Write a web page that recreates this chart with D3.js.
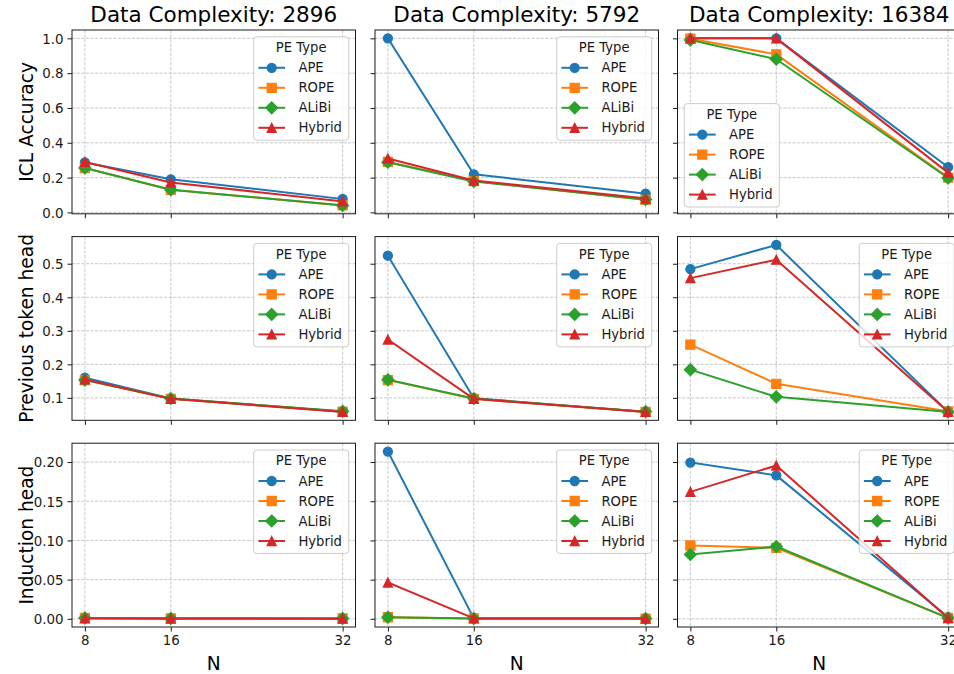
<!DOCTYPE html>
<html>
<head>
<meta charset="utf-8">
<script src="https://cdn.jsdelivr.net/npm/d3@7"></script>
<style>
  html, body { margin: 0; padding: 0; background: #fff; }
  svg { display: block; font-family: "DejaVu Sans", sans-serif; }
</style>
</head>
<body>
<svg id="chart" width="954" height="674"></svg>
<script>
// ---------------- data ----------------
const N = [8, 16, 32];
const complexities = [2896, 5792, 16384];
const peTypes = ["APE", "ROPE", "ALiBi", "Hybrid"];
const metrics = ["ICL Accuracy", "Previous token head", "Induction head"];

// each array: one row of values per data complexity (2896, 5792, 16384), values at N = 8, 16, 32
const iclAPE    = [[0.287, 0.190, 0.077], [1.000, 0.219, 0.108], [1.000, 1.000, 0.260]];
const iclROPE   = [[0.255, 0.130, 0.040], [0.290, 0.180, 0.072], [0.998, 0.908, 0.200]];
const iclALiBi  = [[0.255, 0.130, 0.040], [0.288, 0.178, 0.074], [0.990, 0.880, 0.198]];
const iclHybrid = [[0.290, 0.172, 0.063], [0.310, 0.183, 0.080], [1.000, 1.000, 0.228]];

const prevAPE    = [[0.160, 0.098, 0.059], [0.524, 0.099, 0.058], [0.484, 0.556, 0.058]];
const prevROPE   = [[0.153, 0.097, 0.059], [0.153, 0.097, 0.058], [0.259, 0.142, 0.060]];
const prevALiBi  = [[0.153, 0.098, 0.060], [0.154, 0.098, 0.059], [0.184, 0.103, 0.058]];
const prevHybrid = [[0.155, 0.097, 0.058], [0.274, 0.097, 0.058], [0.457, 0.512, 0.058]];

const indAPE    = [[0.001, 0.0005, 0.0005], [0.2134, 0.0005, 0.0003], [0.1994, 0.183, 0.002]];
const indROPE   = [[0.001, 0.0005, 0.0005], [0.002, 0.0005, 0.0003], [0.0935, 0.0906, 0.001]];
const indALiBi  = [[0.001, 0.0005, 0.0005], [0.002, 0.0005, 0.0003], [0.082, 0.0922, 0.001]];
const indHybrid = [[0.0005, 0.0003, 0.0002], [0.0463, 0.0005, 0.0003], [0.162, 0.1956, 0.001]];

const yTicksICL  = [0.0, 0.2, 0.4, 0.6, 0.8, 1.0];
const yTicksPrev = [0.1, 0.2, 0.3, 0.4, 0.5];
const yTicksInd  = [0.00, 0.05, 0.10, 0.15, 0.20];

// legend placement per row/column
const legendLocs = [["upper right", "upper right", "lower left"],
                    ["upper right", "upper right", "upper right"],
                    ["upper right", "upper right", "upper right"]];

// ---------------- setup ----------------
const metricSeries = [
  [iclAPE, iclROPE, iclALiBi, iclHybrid],
  [prevAPE, prevROPE, prevALiBi, prevHybrid],
  [indAPE, indROPE, indALiBi, indHybrid]
];
const metricTicks = [yTicksICL, yTicksPrev, yTicksInd];
const metricFmt = [d3.format(".1f"), d3.format(".1f"), d3.format(".2f")];

const colors = ["#1f77b4", "#ff7f0e", "#2ca02c", "#d62728"];
const shapes = ["circle", "square", "diamond", "triangle"];

const colLayout = [[72, 355.5], [375, 658.5], [677.5, 961]];
const rowLayout = [[30, 213.8], [236.6, 420.3], [443.2, 627]];

const svg = d3.select("#chart");

function markerPath(shape) {
  const ms = 9.1;
  const h = ms / 2;
  if (shape === "circle") {
    return `M${h},0A${h},${h} 0 1,1 ${-h},0A${h},${h} 0 1,1 ${h},0Z`;
  } else if (shape === "square") {
    return `M${-h},${-h}H${h}V${h}H${-h}Z`;
  } else if (shape === "diamond") {
    const d = h * Math.SQRT2 * 0.93;
    return `M0,${-d}L${d},0L0,${d}L${-d},0Z`;
  } else {
    return `M0,${-h}L${h},${h}L${-h},${h}Z`;
  }
}

// x domain: matplotlib 5% margins
const xMin = d3.min(N), xMax = d3.max(N);
const xPad = (xMax - xMin) * 0.05;

metrics.forEach((metric, r) => {
  const seriesSet = metricSeries[r];
  const allVals = seriesSet.flat(2);
  const yLo = d3.min(allVals), yHi = d3.max(allVals);
  const yPad = (yHi - yLo) * 0.05;
  const [y0, y1] = rowLayout[r];

  const y = d3.scaleLinear().domain([yLo - yPad, yHi + yPad]).range([y1, y0]);

  complexities.forEach((cx, c) => {
    const [x0, x1] = colLayout[c];
    const x = d3.scaleLinear().domain([xMin - xPad, xMax + xPad]).range([x0, x1]);
    const g = svg.append("g");

    // grid
    const grid = g.append("g")
      .attr("stroke", "#b0b0b0").attr("stroke-width", 0.8)
      .attr("stroke-dasharray", "3.2,1.4").attr("opacity", 0.85);
    N.forEach(n => grid.append("line")
      .attr("x1", x(n)).attr("x2", x(n)).attr("y1", y0).attr("y2", y1));
    metricTicks[r].forEach(t => grid.append("line")
      .attr("x1", x0).attr("x2", x1).attr("y1", y(t)).attr("y2", y(t)));

    // lines + markers
    const line = d3.line().x((d, i) => x(N[i])).y(d => y(d));
    seriesSet.forEach((arr, s) => {
      const vals = arr[c];
      g.append("path").attr("d", line(vals))
        .attr("fill", "none").attr("stroke", colors[s])
        .attr("stroke-width", 2).attr("stroke-linejoin", "round").attr("stroke-linecap", "square");
      vals.forEach((v, i) => {
        g.append("path").attr("d", markerPath(shapes[s]))
          .attr("transform", `translate(${x(N[i])},${y(v)})`)
          .attr("fill", colors[s]).attr("stroke", colors[s]).attr("stroke-width", 1.2);
      });
    });

    // spines
    g.append("rect").attr("x", x0).attr("y", y0)
      .attr("width", x1 - x0).attr("height", y1 - y0)
      .attr("fill", "none").attr("stroke", "#1a1a1a").attr("stroke-width", 1);

    // y ticks
    const yAxis = d3.axisLeft(y).tickValues(metricTicks[r]).tickSize(4.5).tickPadding(4)
      .tickFormat(c === 0 ? metricFmt[r] : () => "");
    const ya = g.append("g").attr("transform", `translate(${x0},0)`).call(yAxis);
    ya.select(".domain").remove();
    ya.selectAll("line").attr("stroke", "#1a1a1a").attr("stroke-width", 1);
    ya.selectAll("text").attr("font-size", 13.4).attr("fill", "#1a1a1a")
      .attr("font-family", "DejaVu Sans, sans-serif").attr("dy", "0.36em");

    // x ticks
    const xAxis = d3.axisBottom(x).tickValues(N).tickSize(4.5).tickPadding(4)
      .tickFormat(r === 2 ? d3.format("d") : () => "");
    const xa = g.append("g").attr("transform", `translate(0,${y1})`).call(xAxis);
    xa.select(".domain").remove();
    xa.selectAll("line").attr("stroke", "#1a1a1a").attr("stroke-width", 1);
    xa.selectAll("text").attr("font-size", 13.4).attr("fill", "#1a1a1a")
      .attr("font-family", "DejaVu Sans, sans-serif").attr("dy", "0.74em");

    // titles and axis labels
    if (r === 0) {
      svg.append("text").attr("x", (x0 + x1) / 2).attr("y", 22)
        .attr("text-anchor", "middle").attr("font-size", 21.5).attr("fill", "#000")
        .text(`Data Complexity: ${cx}`);
    }
    if (r === 2) {
      svg.append("text").attr("x", (x0 + x1) / 2).attr("y", 670)
        .attr("text-anchor", "middle").attr("font-size", 18.6).attr("fill", "#000")
        .text("N");
    }
    if (c === 0) {
      svg.append("text")
        .attr("transform", `translate(33,${(y0 + y1) / 2}) rotate(-90)`)
        .attr("text-anchor", "middle").attr("font-size", 18.6).attr("fill", "#000")
        .text(metric);
    }

    // legend
    const lw = 95, lh = 103.4, pad = 6.8;
    const loc = legendLocs[r][c];
    const lx = loc === "upper right" ? x1 - pad - lw : x0 + pad;
    const ly = loc === "upper right" ? y0 + pad : y1 - pad - lh;
    const lg = svg.append("g").attr("transform", `translate(${lx},${ly})`);
    lg.append("rect").attr("width", lw).attr("height", lh).attr("rx", 3)
      .attr("fill", "#fff").attr("fill-opacity", 0.8)
      .attr("stroke", "#cccccc").attr("stroke-width", 1);
    lg.append("text").attr("x", lw / 2).attr("y", 15.2)
      .attr("text-anchor", "middle").attr("font-size", 13.2).attr("fill", "#1a1a1a")
      .text("PE Type");
    peTypes.forEach((name, s) => {
      const yy = 31 + 20 * s;
      lg.append("line").attr("x1", 4.7).attr("x2", 31.4).attr("y1", yy).attr("y2", yy)
        .attr("stroke", colors[s]).attr("stroke-width", 2);
      lg.append("path").attr("d", markerPath(shapes[s]))
        .attr("transform", `translate(18,${yy})`)
        .attr("fill", colors[s]).attr("stroke", colors[s]).attr("stroke-width", 1.2);
      lg.append("text").attr("x", 44.7).attr("y", yy + 4.7)
        .attr("font-size", 13.2).attr("fill", "#1a1a1a").text(name);
    });
  });
});
</script>
</body>
</html>
